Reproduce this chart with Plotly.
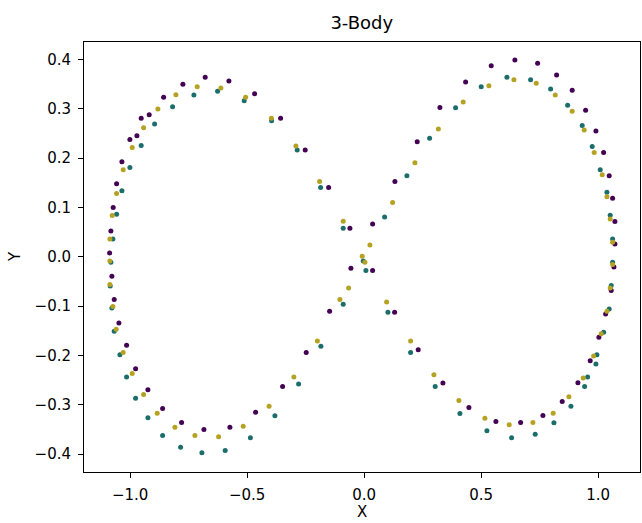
import plotly.graph_objects as go

# Body 1 (dark purple)
x1 = [-0.0607, -0.1517, -0.2517, -0.3568, -0.4679, -0.5778, -0.6791, -0.7744, -0.8568, -0.9184,
      -0.9526, -0.9709, -1.0009, -1.0350, -1.0577, -1.0722, -1.0821, -1.0876, -1.0778, -1.0679,
      -1.0479, -1.0150, -0.9765, -0.9239, -0.8611, -0.7799, -0.6846, -0.5735, -0.4637, -0.3483,
      -0.2474, -0.1474, -0.0564, 0.0363, 0.0363, 0.1316, 0.2269, 0.3239, 0.4338, 0.5432,
      0.6444, 0.7415, 0.8226, 0.8893, 0.9466, 0.9906, 1.0235, 1.0474, 1.0620, 1.0718,
      1.0718, 1.0675, 1.0560, 1.0321, 1.0034, 0.9662, 0.9137, 0.8466, 0.7641, 0.6688,
      0.5632, 0.4479, 0.3368, 0.2312, 0.1303]
y1 = [0.0578, 0.1404, 0.2160, 0.2803, 0.3302, 0.3560, 0.3635, 0.3493, 0.3229, 0.2876,
      0.2803, 0.2450, 0.2377, 0.1923, 0.1477, 0.0998, 0.0523, 0.0077, -0.0396, -0.0868,
      -0.1343, -0.1795, -0.2268, -0.2694, -0.3073, -0.3357, -0.3499, -0.3452, -0.3148, -0.2627,
      -0.1937, -0.1105, -0.0233, -0.0280, 0.0665, 0.1525, 0.2329, 0.3022, 0.3540, 0.3870,
      0.3986, 0.3919, 0.3682, 0.3371, 0.2966, 0.2546, 0.2114, 0.1639, 0.1187, 0.0714,
      0.0260, -0.0207, -0.0686, -0.1160, -0.1633, -0.2105, -0.2552, -0.2931, -0.3215, -0.3357,
      -0.3337, -0.3053, -0.2556, -0.1886, -0.1126]

# Body 2 (teal)
x2 = [-0.3953, -0.2859, -0.1859, -0.0893, -0.5124, -0.6261, -0.7274, -0.8184, -0.8953, -0.9526,
      -1.0009, -1.0350, -1.0577, -1.0735, -1.0821, -1.0850, -1.0778, -1.0679, -1.0436, -1.0150,
      -0.9765, -0.9239, -0.8611, -0.7842, -0.6932, -0.5936, -0.4859, -0.3812, -0.2799, -0.1846,
      -0.0893, -0.0038, 0.0077, 0.0876, 0.1829, 0.2799, 0.3910, 0.5004, 0.6103, 0.7115,
      0.7970, 0.8697, 0.9321, 0.9748, 1.0090, 1.0376, 1.0517, 1.0620, 1.0620, 1.0560,
      1.0474, 1.0235, 0.9949, 0.9906, 0.9551, 0.9423, 0.8838, 0.8111, 0.7312, 0.6303,
      0.5248, 0.4094, 0.3038, 0.1987, 0.1017]
y2 = [0.2755, 0.2160, 0.1404, 0.0578, 0.3160, 0.3351, 0.3276, 0.3039, 0.2688, 0.2256,
      0.1809, 0.1335, 0.0862, 0.0361, -0.0112, -0.0592, -0.1039, -0.1511, -0.1984, -0.2438,
      -0.2864, -0.3262, -0.3621, -0.3858, -0.3972, -0.3925, -0.3667, -0.3219, -0.2580, -0.1815,
      -0.0963, -0.0085, -0.0280, 0.0807, 0.1639, 0.2400, 0.3018, 0.3444, 0.3635, 0.3586,
      0.3398, 0.3067, 0.2661, 0.2235, 0.1761, 0.1308, 0.0842, 0.0361, -0.0112, -0.0584,
      -0.1059, -0.1531, -0.1984, -0.2174, -0.2438, -0.2627, -0.3026, -0.3363, -0.3594, -0.3667,
      -0.3525, -0.3174, -0.2627, -0.1937, -0.1126]

# Body 3 (olive)
x3 = [-0.3962, -0.2915, -0.1902, -0.0893, -0.5064, -0.6120, -0.7132, -0.8043, -0.8812, -0.9423,
      -0.9910, -1.0295, -1.0577, -1.0765, -1.0863, -1.0863, -1.0863, -1.0735, -1.0594, -1.0295,
      -0.9910, -0.9423, -0.8842, -0.8085, -0.7231, -0.6218, -0.5167, -0.4060, -0.3000, -0.1996,
      -0.1034, -0.0662, -0.0081, 0.0034, 0.0248, 0.1218, 0.2171, 0.3175, 0.4235, 0.5333,
      0.6402, 0.7355, 0.8167, 0.8893, 0.9406, 0.9833, 1.0175, 1.0376, 1.0517, 1.0620,
      1.0620, 1.0517, 1.0376, 1.0132, 0.9808, 0.9363, 0.8752, 0.8081, 0.7214, 0.6201,
      0.5162, 0.4051, 0.2983, 0.1987, 0.0962]
y3 = [0.2803, 0.2241, 0.1525, 0.0720, 0.3229, 0.3418, 0.3444, 0.3282, 0.2992, 0.2613,
      0.2215, 0.1761, 0.1282, 0.0836, 0.0361, -0.0085, -0.0564, -0.1010, -0.1471, -0.1937,
      -0.2363, -0.2789, -0.3168, -0.3452, -0.3621, -0.3647, -0.3432, -0.3026, -0.2438, -0.1704,
      -0.0868, -0.0633, 0.0010, -0.0112, 0.0239, 0.1099, 0.1903, 0.2586, 0.3134, 0.3465,
      0.3586, 0.3513, 0.3276, 0.2945, 0.2566, 0.2114, 0.1659, 0.1213, 0.0767, 0.0294,
      -0.0158, -0.0633, -0.1105, -0.1558, -0.2012, -0.2458, -0.2836, -0.3168, -0.3357, -0.3404,
      -0.3270, -0.2911, -0.2389, -0.1704, -0.0917]

x_ticks = [-1.0, -0.5, 0.0, 0.5, 1.0]
y_ticks = [-0.4, -0.3, -0.2, -0.1, 0.0, 0.1, 0.2, 0.3, 0.4]

colors = ["#440154", "#1c6e6c", "#b5a222"]
FONT = "DejaVu Sans"

fig = go.Figure()
for xs, ys, c in [(x1, y1, colors[0]), (x2, y2, colors[1]), (x3, y3, colors[2])]:
    fig.add_trace(go.Scatter(x=xs, y=ys, mode="markers",
                             marker=dict(size=5, color=c, line=dict(width=0)),
                             showlegend=False))

axis_common = dict(showline=True, mirror=True, linecolor="black", linewidth=1,
                   ticks="outside", ticklen=5, tickwidth=1, tickcolor="black",
                   showgrid=False, zeroline=False, tickformat=".1f",
                   tickfont=dict(family=FONT, size=15, color="black"))

fig.update_layout(
    width=642, height=523,
    margin=dict(l=84, r=2, t=42, b=51),
    paper_bgcolor="white", plot_bgcolor="white",
    font=dict(family=FONT, color="black"),
    title=dict(text="3-Body", x=0.5635, xanchor="center", y=1 - 23 / 523, yanchor="middle",
               yref="container", font=dict(family=FONT, size=18, color="black")),
    xaxis=dict(range=[-1.197, 1.179], tickvals=x_ticks, ticklabelstandoff=4, **axis_common),
    yaxis=dict(range=[-0.436, 0.435], tickvals=y_ticks, ticklabelstandoff=4, **axis_common),
    annotations=[
        dict(text="X", xref="paper", yref="paper", x=0.5, y=-0.094, xanchor="center",
             yanchor="middle", showarrow=False, font=dict(family=FONT, size=15, color="black")),
        dict(text="Y", xref="paper", yref="paper", x=-0.124, y=0.5, xanchor="center",
             yanchor="middle", textangle=-90, showarrow=False,
             font=dict(family=FONT, size=15, color="black")),
    ],
)

fig.write_html("out.html")
